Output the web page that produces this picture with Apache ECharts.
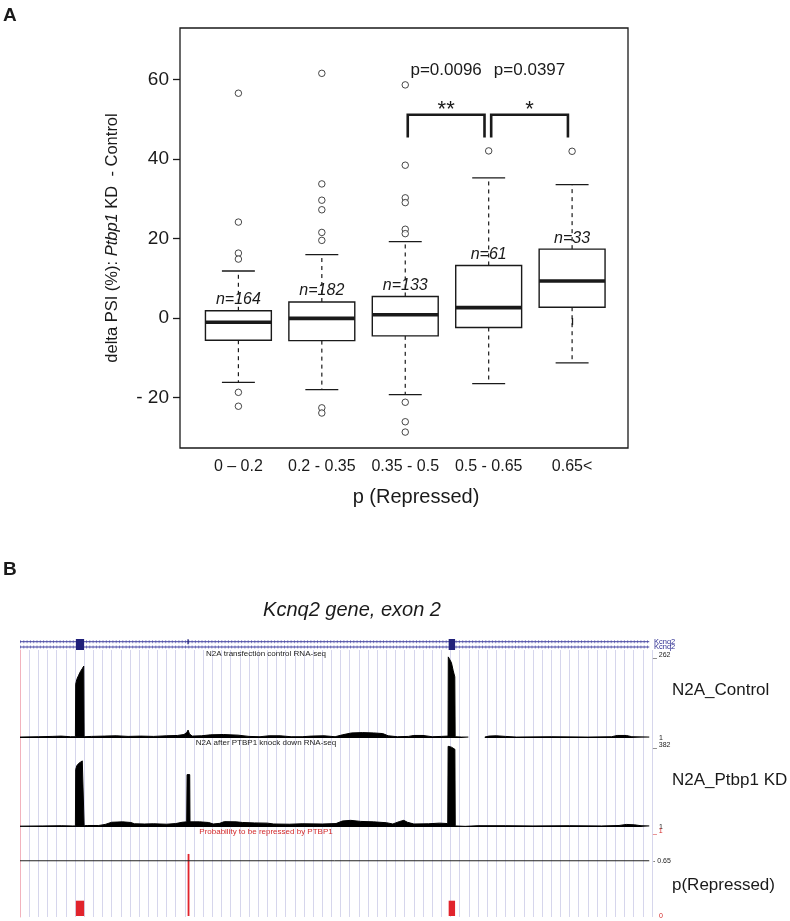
<!DOCTYPE html>
<html><head><meta charset="utf-8">
<script src="https://cdn.jsdelivr.net/npm/echarts@6/dist/echarts.min.js"></script>
<style>html,body{margin:0;padding:0;background:#fff}#c{width:790px;height:921px}</style>
</head><body><div id="c"></div>
<script>
// ---------- Panel A data ----------
const categories = ['0 \u2013 0.2', '0.2 - 0.35', '0.35 - 0.5', '0.5 - 0.65', '0.65<'];
const counts = [164, 182, 133, 61, 33];
const whiskerLow = [-16.2, -18.0, -19.3, -16.5, -11.3];
const q1 = [-5.6, -5.7, -4.5, -2.4, 2.7];
const medians = [-1.1, -0.1, 0.8, 2.6, 9.3];
const q3 = [1.8, 4.0, 5.4, 13.2, 17.3];
const whiskerHigh = [11.8, 15.9, 19.2, 35.2, 33.5];
const outliers = [
  [56.5, 24.1, 16.3, 14.8, -18.7, -22.2],
  [61.5, 33.7, 29.6, 27.2, 21.5, 19.5, -22.6, -23.9],
  [58.6, 38.4, 30.2, 29.0, 22.3, 21.2, -21.2, -26.1, -28.7],
  [42.0],
  [41.9]
];
const yTicks = [-20, 0, 20, 40, 60];
const compPairs = [[3, 4], [4, 5]];
const compPValues = ['0.0096', '0.0397'];
const compStars = ['**', '*'];

// ---------- Panel B data ----------
const regionEnd = 687;
const exons = [[61, 70], [468, 475]];
const minorExon = [182.8, 184.2];
const ctrlMax = 262, kdMax = 382;
const ctrlCov = [
  [0,3],[20,4],[35,5],[45,6],[55,4],[60.5,4],
  [60.8,170],[62,185],[64,198],[66,210],[68,219],[69.6,227],[70,4],
  [78,5],[92,6],[105,7],[118,5],[132,6],[146,5],[160,7],[172,8],[179,11],[182,17],[183.5,25],[185,13],[188,6],
  [198,7],[208,10],[222,11],[238,9],[250,5],[262,4],[272,7],[284,7],[296,4],[308,4],[318,6],[332,7],[344,4],
  [352,10],[362,16],[374,17],[386,16],[396,14],[402,7],[412,4],[424,5],[430,8],[440,8],[450,4],[460,5],[467.3,6],
  [467.6,256],[469,255],[471,238],[473,212],[474.7,193],[475.1,4],[482,3],[489.5,3],
  null,
  [507.5,3],[512,6],[520,7],[530,5],[542,3],[580,4],[620,3],[646,4],[652,8],[662,8],[668,4],[687,3]
];
const kdCov = [
  [0,4],[25,5],[45,6],[57,5],[60.5,5],
  [60.8,268],[62,285],[64,296],[66,303],[68,308],[69.6,311],[70,6],
  [74,7],[86,7],[93,12],[100,22],[112,24],[121,21],[125,15],[136,14],[146,15],[160,13],[170,16],[177,22],[182,24],
  [182.4,244],[185.3,244],[185.6,24],[196,24],[206,21],[211,14],[218,17],[223,25],[236,24],[243,21],[256,19],[270,18],
  [277,14],[294,13],[308,15],[330,14],[345,16],[352,28],[361,31],[372,26],[386,24],[400,20],[407,14],[414,25],[419,31],
  [423,22],[430,14],[446,15],[458,18],[467,16],
  [467.4,376],[469,378],[471,372],[473,367],[474.8,362],[475.2,5],[486,3],[500,6],[530,6],[560,5],[600,6],[635,5],
  [654,7],[662,12],[671,10],[678,6],[687,5]
];
const probBars = [[61, 70, 0.18], [183, 185, 0.73], [468, 475, 0.18]];
const probThreshold = 0.65;

// ---------- build ----------
const F = 'Liberation Sans, Arial, Helvetica, sans-serif';
const INK = '#1a1a1a';

function segments(arr) {
  const out = [[]];
  arr.forEach(p => { if (p === null) out.push([]); else out[out.length - 1].push(p); });
  return out.filter(s => s.length);
}

const boxData = categories.map((c, i) => [i + 1, whiskerLow[i], q1[i], medians[i], q3[i], whiskerHigh[i], counts[i]]);
const outlierData = [];
outliers.forEach((arr, i) => arr.forEach(v => outlierData.push([i + 1, v])));
const compData = compPairs.map((p, i) => [p[0], p[1], i]);

function renderBox(params, api) {
  const x = api.value(0);
  const lo = api.coord([x, api.value(1)]);
  const b1 = api.coord([x, api.value(2)]);
  const md = api.coord([x, api.value(3)]);
  const b3 = api.coord([x, api.value(4)]);
  const hi = api.coord([x, api.value(5)]);
  const n = api.value(6);
  const hw = api.size([0.79, 0])[0] / 2;
  const cw = hw / 2;
  const cx = lo[0];
  const ls = { stroke: INK, lineWidth: 1.3 };
  return {
    type: 'group',
    children: [
      { type: 'line', shape: { x1: cx, y1: b3[1], x2: cx, y2: hi[1] }, style: { stroke: INK, lineWidth: 1.2, lineDash: [4, 4] } },
      { type: 'line', shape: { x1: cx, y1: b1[1], x2: cx, y2: lo[1] }, style: { stroke: INK, lineWidth: 1.2, lineDash: [4, 4] } },
      { type: 'line', shape: { x1: cx - cw, y1: hi[1], x2: cx + cw, y2: hi[1] }, style: ls },
      { type: 'line', shape: { x1: cx - cw, y1: lo[1], x2: cx + cw, y2: lo[1] }, style: ls },
      { type: 'rect', shape: { x: cx - hw, y: b3[1], width: hw * 2, height: b1[1] - b3[1] }, style: { fill: '#fff', stroke: INK, lineWidth: 1.4 } },
      { type: 'line', shape: { x1: cx - hw, y1: md[1], x2: cx + hw, y2: md[1] }, style: { stroke: INK, lineWidth: 3.6 } },
      { type: 'text', x: cx, y: b3[1] - 11, style: { text: 'n=' + n, fontSize: 16, fontStyle: 'italic', fontFamily: F, fill: INK, align: 'center', verticalAlign: 'middle' } }
    ]
  };
}

function renderComp(params, api) {
  const a = api.value(0), b = api.value(1), i = api.value(2);
  const p0 = api.coord([a + 0.03, 45.4]);
  const p1 = api.coord([a + 0.03, 51.1]);
  const p2 = api.coord([b - 0.05, 51.1]);
  const p3 = api.coord([b - 0.05, 45.4]);
  const mid = (p1[0] + p2[0]) / 2;
  const st = api.coord([a, 52.2]);
  const pt = api.coord([a, 62.2]);
  return {
    type: 'group',
    children: [
      { type: 'polyline', shape: { points: [p0, p1, p2, p3] }, style: { stroke: INK, lineWidth: 2.6, fill: null } },
      { type: 'text', x: mid, y: st[1], style: { text: compStars[i], fontSize: 22, fontFamily: F, fill: INK, align: 'center', verticalAlign: 'middle' } },
      { type: 'text', x: mid, y: pt[1], style: { text: 'p=' + compPValues[i], fontSize: 17, fontFamily: F, fill: INK, align: 'center', verticalAlign: 'middle' } }
    ]
  };
}

function renderGene(params, api) {
  const cs = params.coordSys;
  const r1 = cs.y + 2.7, r2 = cs.y + 8;
  const xs = api.coord([0, 0])[0], xe = api.coord([regionEnd, 0])[0];
  const ch = [];
  [r1, r2].forEach(r => {
    ch.push({ type: 'line', shape: { x1: xs, y1: r, x2: xe, y2: r }, style: { stroke: '#8c8cc8', lineWidth: 3, lineDash: [1, 2.3] } });
    ch.push({ type: 'line', shape: { x1: xs, y1: r, x2: xe, y2: r }, style: { stroke: '#4646a0', lineWidth: 1 } });
  });
  exons.forEach(e => {
    const a = api.coord([e[0], 0])[0], b = api.coord([e[1], 0])[0];
    ch.push({ type: 'rect', shape: { x: a, y: cs.y, width: b - a, height: cs.height }, style: { fill: '#20207a' } });
  });
  const ma = api.coord([minorExon[0], 0])[0], mb = api.coord([minorExon[1], 0])[0];
  ch.push({ type: 'rect', shape: { x: ma, y: r1 - 2.5, width: mb - ma, height: 5 }, style: { fill: '#20207a' } });
  return { type: 'group', children: ch };
}

function renderProb(params, api) {
  const a = api.coord([api.value(0), api.value(2)]);
  const b = api.coord([api.value(1), 0]);
  return { type: 'rect', shape: { x: a[0], y: a[1], width: b[0] - a[0], height: b[1] - a[1] }, style: { fill: '#e1242c' } };
}

const covSeries = [];
segments(ctrlCov).forEach(seg => covSeries.push({
  type: 'line', xAxisIndex: 2, yAxisIndex: 2, data: seg, symbol: 'none', silent: true, z: 3,
  lineStyle: { color: '#000', width: 1 }, itemStyle: { color: '#000' }, areaStyle: { color: '#000', opacity: 1 }
}));
segments(kdCov).forEach(seg => covSeries.push({
  type: 'line', xAxisIndex: 3, yAxisIndex: 3, data: seg, symbol: 'none', silent: true, z: 3,
  lineStyle: { color: '#000', width: 1 }, itemStyle: { color: '#000' }, areaStyle: { color: '#000', opacity: 1 }
}));

const tinyLabel = { fontSize: 7, fontFamily: F, color: '#222' };
const trackY = (idx, max) => ({
  gridIndex: idx, type: 'value', min: 0, max: max, position: 'right',
  axisLine: { show: false }, axisTick: { show: false }, splitLine: { show: false },
  axisLabel: {
    customValues: [0, max], margin: 1, ...tinyLabel,
    formatter: v => v === max ? '_ ' + max : '{p|1}',
    rich: { p: { padding: [0, 0, 0, 6], fontSize: 7, fontFamily: F, color: '#222' } }
  }
});

const option = {
  animation: false,
  backgroundColor: '#fff',
  grid: [
    { left: 180, top: 28, width: 448, height: 420, show: true, borderColor: INK, borderWidth: 1.3, backgroundColor: 'transparent' },
    { left: 20, top: 639, width: 632, height: 11 },
    { left: 20, top: 655, width: 632, height: 83 },
    { left: 20, top: 745, width: 632, height: 82 },
    { left: 20, top: 831, width: 632, height: 85 },
    { left: 20, top: 650, width: 632, height: 267 }
  ],
  xAxis: [
    {
      gridIndex: 0, type: 'value', min: 0.3, max: 5.67,
      axisLine: { show: false }, splitLine: { show: false },
      axisTick: { customValues: [1, 2, 3, 4, 5], length: 7, lineStyle: { color: INK, width: 1.3 } },
      axisLabel: { customValues: [1, 2, 3, 4, 5], formatter: v => categories[Math.round(v) - 1], margin: 11, fontSize: 16, fontFamily: F, color: INK }
    },
    { gridIndex: 1, type: 'value', min: 0, max: 690, show: false },
    { gridIndex: 2, type: 'value', min: 0, max: 690, show: false },
    { gridIndex: 3, type: 'value', min: 0, max: 690, show: false },
    { gridIndex: 4, type: 'value', min: 0, max: 690, show: false },
    {
      gridIndex: 5, type: 'value', min: 0, max: 690, interval: 10,
      axisLine: { show: false }, axisTick: { show: false }, axisLabel: { show: false },
      splitLine: { show: true, lineStyle: { color: '#d6d6ec', width: 1 } }
    }
  ],
  yAxis: [
    {
      gridIndex: 0, type: 'value', min: -32.7, max: 72.9,
      axisLine: { show: false }, splitLine: { show: false },
      axisTick: { customValues: yTicks, length: 7, lineStyle: { color: INK, width: 1.3 } },
      axisLabel: { customValues: yTicks, formatter: v => v < 0 ? '- ' + Math.abs(v) : String(v), margin: 11, fontSize: 19, fontFamily: F, color: INK },
      name: '{n|delta PSI (%): }{i|Ptbp1}{n| KD  - Control}',
      nameLocation: 'middle', nameGap: 59, nameRotate: 90,
      nameTextStyle: { rich: { n: { fontSize: 16.5, fontFamily: F, color: INK }, i: { fontSize: 16.5, fontFamily: F, fontStyle: 'italic', color: INK } } }
    },
    { gridIndex: 1, type: 'value', min: 0, max: 1, show: false },
    trackY(2, ctrlMax),
    trackY(3, kdMax),
    {
      gridIndex: 4, type: 'value', min: 0, max: 1, position: 'right',
      axisLine: { show: false }, axisTick: { show: false }, splitLine: { show: false },
      axisLabel: {
        customValues: [0, probThreshold, 1], margin: 1, ...tinyLabel,
        formatter: v => v === 1 ? '{r|_ 1}' : (v === 0 ? '{r0|0}' : '- ' + v),
        rich: {
          r: { fontSize: 7, fontFamily: F, color: '#d42a2a' },
          r0: { fontSize: 7, fontFamily: F, color: '#d42a2a', padding: [0, 0, 0, 6] }
        }
      }
    },
    {
      gridIndex: 5, type: 'value', min: 0, max: 1, position: 'right',
      axisLine: { show: true, lineStyle: { color: '#f2b3bd', width: 1 } },
      axisTick: { show: false }, axisLabel: { show: false }, splitLine: { show: false }
    }
  ],
  graphic: [
    { type: 'text', left: 3, top: 6, style: { text: 'A', fontSize: 19, fontWeight: 'bold', fontFamily: F, fill: INK } },
    { type: 'text', left: 3, top: 560, style: { text: 'B', fontSize: 19, fontWeight: 'bold', fontFamily: F, fill: INK } },
    { type: 'text', x: 416, y: 497, style: { text: 'p (Repressed)', fontSize: 20, fontFamily: F, fill: INK, align: 'center', verticalAlign: 'middle' } },
    { type: 'text', x: 352, y: 610, style: { text: 'Kcnq2 gene, exon 2', fontSize: 20, fontStyle: 'italic', fontFamily: F, fill: INK, align: 'center', verticalAlign: 'middle' } },
    { type: 'text', x: 654, y: 641.7, z: 10, style: { text: 'Kcnq2', fontSize: 7.5, fontFamily: F, fill: '#2b2b90', align: 'left', verticalAlign: 'middle' } },
    { type: 'text', x: 654, y: 647, z: 10, style: { text: 'Kcnq2', fontSize: 7.5, fontFamily: F, fill: '#2b2b90', align: 'left', verticalAlign: 'middle' } },
    { type: 'text', x: 266, y: 654, z: 10, style: { text: 'N2A transfection control RNA-seq', fontSize: 8, fontFamily: F, fill: '#222', align: 'center', verticalAlign: 'middle' } },
    { type: 'text', x: 266, y: 743, z: 10, style: { text: 'N2A after PTBP1 knock down RNA-seq', fontSize: 8, fontFamily: F, fill: '#222', align: 'center', verticalAlign: 'middle' } },
    { type: 'text', x: 266, y: 831.5, z: 10, style: { text: 'Probability to be repressed by PTBP1', fontSize: 8, fontFamily: F, fill: '#d42a2a', align: 'center', verticalAlign: 'middle' } },
    { type: 'text', x: 672, y: 690, style: { text: 'N2A_Control', fontSize: 17, fontFamily: F, fill: INK, align: 'left', verticalAlign: 'middle' } },
    { type: 'text', x: 672, y: 780, style: { text: 'N2A_Ptbp1 KD', fontSize: 17, fontFamily: F, fill: INK, align: 'left', verticalAlign: 'middle' } },
    { type: 'text', x: 672, y: 885, style: { text: 'p(Repressed)', fontSize: 17, fontFamily: F, fill: INK, align: 'left', verticalAlign: 'middle' } }
  ],
  series: [
    { type: 'custom', xAxisIndex: 0, yAxisIndex: 0, data: boxData, renderItem: renderBox, z: 3, silent: true },
    {
      type: 'scatter', xAxisIndex: 0, yAxisIndex: 0, data: outlierData, symbol: 'circle', symbolSize: 6.5, silent: true, z: 4,
      itemStyle: { color: '#fff', borderColor: INK, borderWidth: 1 }
    },
    { type: 'custom', xAxisIndex: 0, yAxisIndex: 0, data: compData, renderItem: renderComp, z: 4, silent: true },
    { type: 'custom', xAxisIndex: 1, yAxisIndex: 1, data: [[0, 0]], renderItem: renderGene, z: 3, silent: true },
    ...covSeries,
    { type: 'custom', xAxisIndex: 4, yAxisIndex: 4, data: probBars, renderItem: renderProb, z: 3, silent: true },
    {
      type: 'line', xAxisIndex: 4, yAxisIndex: 4, data: [[0, probThreshold], [regionEnd, probThreshold]], symbol: 'none', silent: true, z: 4,
      lineStyle: { color: '#222', width: 1 }
    }
  ]
};

const chart = echarts.init(document.getElementById('c'), null, { renderer: 'canvas' });
chart.setOption(option);
</script>
</body></html>
